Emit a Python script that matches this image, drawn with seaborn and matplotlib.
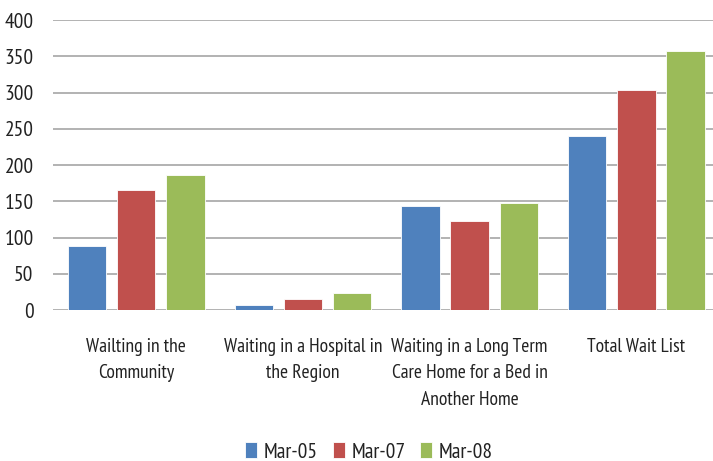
import matplotlib
matplotlib.use('Agg')

import matplotlib.pyplot as plt
import seaborn as sns
import pandas as pd

categories = [
    "Wailting in the\nCommunity",
    "Waiting in a Hospital in\nthe Region",
    "Waiting in a Long Term\nCare Home for a Bed in\nAnother Home",
    "Total Wait List",
]
series = ["Mar-05", "Mar-07", "Mar-08"]
mar05 = [88, 7, 144, 240]
mar07 = [165, 15, 123, 304]
mar08 = [186, 24, 148, 357]
colors = ["#4F81BD", "#C0504D", "#9BBB59"]

df = pd.DataFrame({
    "category": categories * 3,
    "series": [s for s in series for _ in categories],
    "value": mar05 + mar07 + mar08,
})

sns.set_style("white")
plt.rcParams['font.family'] = ['PT Sans Narrow', 'DejaVu Sans']

fig = plt.figure(figsize=(7.13, 4.61), dpi=100)
ax = fig.add_axes([0.0743, 0.3275, 0.9257, 0.6291])

sns.barplot(data=df, x="category", y="value", hue="series", palette=colors,
            saturation=1, width=0.885, gap=0.22, ax=ax, edgecolor="white",
            linewidth=0.6, zorder=3)

ax.set_ylim(0, 400)
ax.set_xlim(-0.5, 3.46)
ax.set_yticks(range(0, 401, 50))
ax.yaxis.grid(True, color="#A6A6A6", linewidth=1.2, zorder=0)
ax.set_axisbelow(True)
for s in ax.spines.values():
    s.set_visible(False)
ax.set_xlabel("")
ax.set_ylabel("")
ax.tick_params(axis="y", length=0, pad=14, labelsize=15.5, labelcolor="#222222")
ax.tick_params(axis="x", length=0, pad=20, labelsize=14, labelcolor="#222222")
for lbl in ax.get_xticklabels():
    lbl.set_linespacing(1.6)

ax.legend(loc="lower center", bbox_to_anchor=(0.479, -0.53), ncol=3,
          frameon=False, fontsize=15.5, handlelength=0.55, handleheight=0.75,
          handletextpad=0.3, columnspacing=0.7, borderaxespad=0,
          borderpad=0.1, labelcolor="#222222")

fig.savefig("out.png", dpi=100)
